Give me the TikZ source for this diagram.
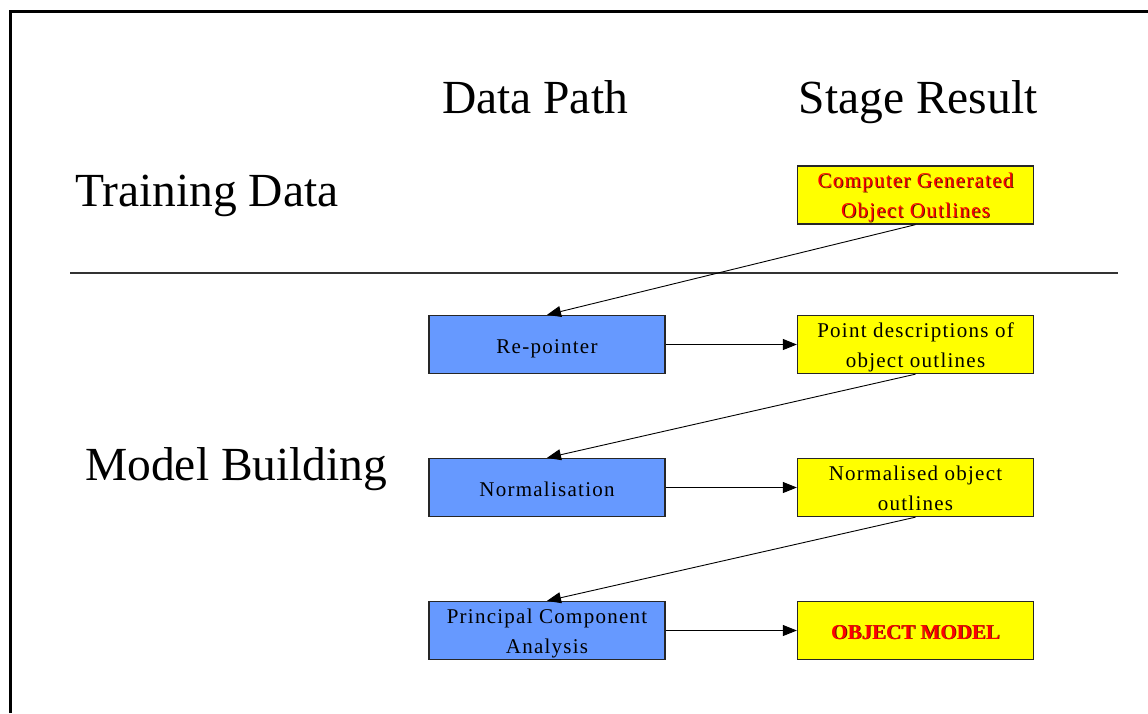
\documentclass[tikz,border=0pt]{standalone}
\usepackage{fontspec}
\setmainfont{Liberation Serif}
\newfontfamily\boxfont[LetterSpace=6]{Liberation Serif}
\usetikzlibrary{arrows.meta}
\definecolor{bluebox}{RGB}{102,153,255}
\definecolor{yellowbox}{RGB}{255,255,0}
\definecolor{shadowc}{RGB}{90,20,0}
\newcommand\shtxt[1]{\makebox[0pt][l]{\kern0.9pt\raisebox{-0.9pt}{\textcolor{shadowc}{#1}}}\textcolor{red}{#1}}
\tikzset{
  heading/.style={font=\fontsize{47.5}{50}\selectfont, inner sep=0pt},
  stagebox/.style={draw=black!85, line width=1.3pt, minimum width=236pt, minimum height=58pt, inner sep=0pt, align=center, font=\boxfont\fontsize{21}{30}\selectfont},
  oneline/.style={text height=17pt, text depth=0pt},
  twoline/.style={text height=47pt, text depth=2pt},
  pathbox/.style={stagebox, fill=bluebox},
  resultbox/.style={stagebox, fill=yellowbox},
  conn/.style={line width=0.9pt, -{Triangle[length=14pt,width=11pt]}},
}
\begin{document}
\begin{tikzpicture}[x=1pt,y=-1pt]
\useasboundingbox (0,0) rectangle (1148,713);
\fill[white] (0,0) rectangle (1148,713);
\draw[line width=3pt] (10,713) -- (10,11) -- (1148,11);
\draw[line width=1.3pt, black!80] (70,273) -- (1118,273);

\node[heading, anchor=base] (hdp) at (535,113) {Data Path};
\node[heading, anchor=base] (hsr) at (918,113) {Stage Result};
\node[heading, anchor=base west] (htd) at (75,206) {Training Data};
\node[heading, anchor=base west] (hmb) at (85,480) {Model Building};

\node[resultbox, twoline] (cg) at (915.5,195) {\shtxt{Computer Generated}\\\shtxt{Object Outlines}};
\node[pathbox, oneline] (rp) at (547,344.5) {Re-pointer};
\node[resultbox, twoline] (pd) at (915.5,344.5) {Point descriptions of\\object outlines};
\node[pathbox, oneline] (nm) at (547,487.5) {Normalisation};
\node[resultbox, twoline] (no) at (915.5,487.5) {Normalised object\\outlines};
\node[pathbox, twoline] (pca) at (547,630.5) {Principal Component\\Analysis};
\node[resultbox, oneline] (om) at (915.5,630.5) {\addfontfeature{LetterSpace=0}\bfseries\shtxt{OBJECT MODEL}};

\draw[conn] (cg.south) -- (rp.north);
\draw[conn] (rp.east) -- (pd.west);
\draw[conn] (pd.south) -- (nm.north);
\draw[conn] (nm.east) -- (no.west);
\draw[conn] (no.south) -- (pca.north);
\draw[conn] (pca.east) -- (om.west);
\end{tikzpicture}
\end{document}
